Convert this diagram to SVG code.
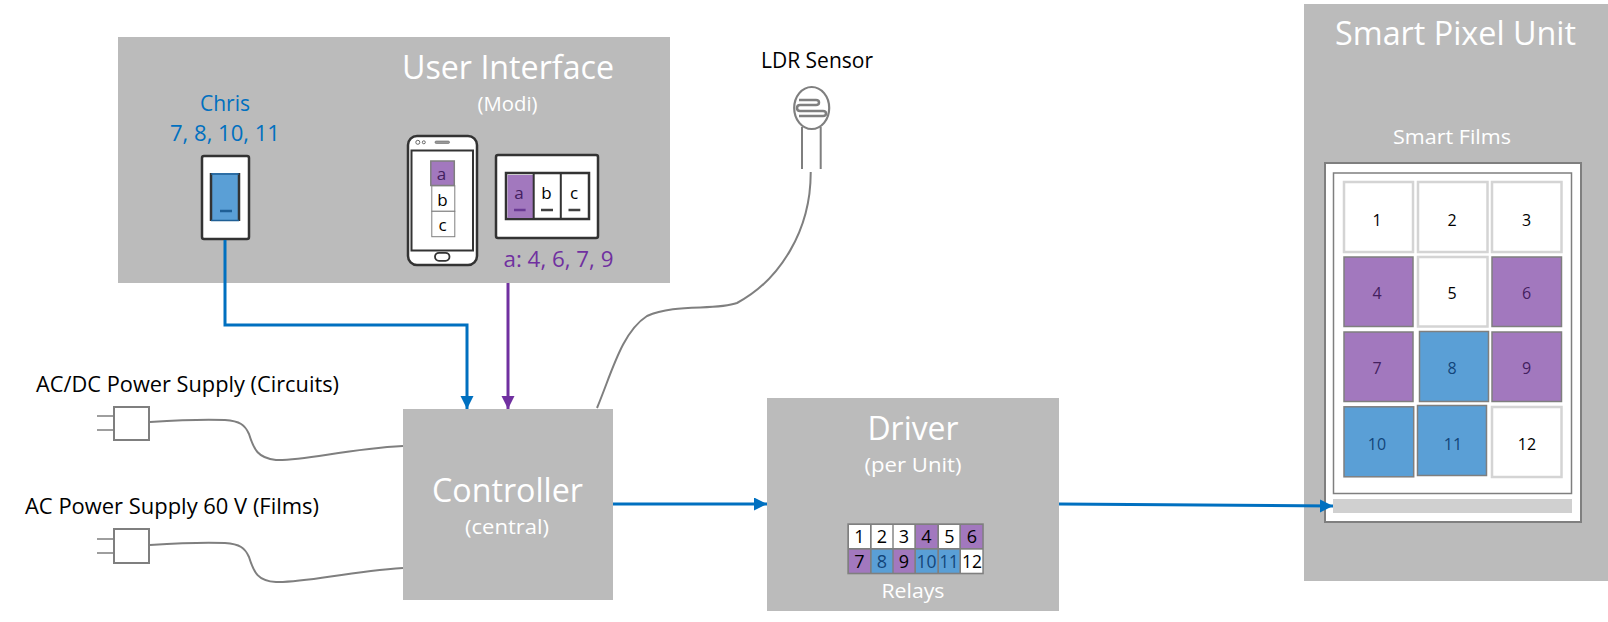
<svg xmlns="http://www.w3.org/2000/svg" width="1608" height="622" viewBox="0 0 1608 622">
<defs>
<marker id="ab" markerUnits="userSpaceOnUse" markerWidth="14" markerHeight="14" refX="13" refY="6.5" orient="auto"><path d="M0 0L13 6.5L0 13Z" fill="#0070C0"/></marker>
<marker id="ap" markerUnits="userSpaceOnUse" markerWidth="14" markerHeight="14" refX="13" refY="6.5" orient="auto"><path d="M0 0L13 6.5L0 13Z" fill="#7030A0"/></marker>
</defs>
<style>
text{font-family:"Open Sans","Noto Sans","Liberation Sans",sans-serif;text-anchor:middle}
.box{fill:#BBBBBB}
.t1{font-size:33px;fill:#fff}
.t2{font-size:20px;fill:#fff}
.lb{font-size:21.5px;fill:#000}
.bl{font-size:21.5px;fill:#0070C0}
.pu{font-size:21.5px;fill:#7030A0}
.wire{fill:none;stroke:#7F7F7F;stroke-width:2}
.dev{fill:#fff;stroke:#333;stroke-width:2.5}
.n{font-size:17px;fill:#000}
.np{font-size:17px;fill:#44205F}
.nb{font-size:16px;fill:#12457A}
.r{font-size:18px;fill:#000}
.rb{font-size:18px;fill:#12457A}
.s{font-size:16px;fill:#000}
.sp{font-size:16px;fill:#44205F}
.cw{fill:#fff;stroke:#D4D4D4;stroke-width:2.5}
.cp{fill:#A278BE;stroke:#7F7F7F;stroke-width:1.5}
.cb{fill:#5A9FD6;stroke:#7F7F7F;stroke-width:1.5}
.rw{fill:#fff}
.rp{fill:#A278BE}
.rbf{fill:#5A9FD6}
.conn{fill:none;stroke-width:3}
</style>

<g id="user-interface">
<rect class="box" x="118" y="37" width="552" height="246"/>
<text class="t1" x="508" y="79" textLength="212" lengthAdjust="spacingAndGlyphs">User Interface</text>
<text class="t2" x="507.500" y="111" textLength="60" lengthAdjust="spacingAndGlyphs">(Modi)</text>
<text class="bl" x="225" y="111" textLength="50" lengthAdjust="spacingAndGlyphs">Chris</text>
<text class="bl" x="225" y="141" textLength="110" lengthAdjust="spacingAndGlyphs">7, 8, 10, 11</text>
<text class="pu" x="558.500" y="267" textLength="110" lengthAdjust="spacingAndGlyphs">a: 4, 6, 7, 9</text>
</g>

<g id="switch-chris">
<rect class="dev" x="202" y="156" width="47" height="83" rx="2"/>
<rect x="211" y="173" width="28" height="48" fill="#5A9FD6"/>
<path d="M211 173V221M239 173V221" stroke="#333" stroke-width="2.500" fill="none"/>
<path d="M211 174H239M211 220.500H239" stroke="#1F5F95" stroke-width="1.500" fill="none"/>
<path d="M220 211H232" stroke="#1F5F95" stroke-width="2.500" fill="none"/>
</g>

<g id="phone">
<rect class="dev" x="408" y="136" width="69" height="129" rx="9" stroke-width="2"/>
<rect x="411.500" y="150.500" width="61.500" height="100" fill="#fff" stroke="#333" stroke-width="2"/>
<circle cx="417.800" cy="142.300" r="2" fill="none" stroke="#666" stroke-width="1"/>
<circle cx="423.800" cy="142.300" r="1.500" fill="none" stroke="#666" stroke-width="1"/>
<rect x="435" y="141" width="14.500" height="2.500" rx="1.200" fill="#999" stroke="#666" stroke-width=".6"/>
<rect x="435" y="252.800" width="14.500" height="8" rx="4" fill="#fff" stroke="#333" stroke-width="1.800"/>
<rect x="431.800" y="185.700" width="23" height="25.600" fill="#fff" stroke="#7F7F7F"/>
<rect x="431.800" y="211.300" width="23" height="25.400" fill="#fff" stroke="#7F7F7F"/>
<rect x="430.800" y="161" width="23.500" height="24.500" fill="#A278BE" stroke="#7F7F7F" stroke-width="1.500"/>
<text class="np" x="441.500" y="180">a</text>
<text class="n" x="442.500" y="206">b</text>
<text class="n" x="442.500" y="231">c</text>
</g>

<g id="wall-panel">
<rect class="dev" x="496" y="155" width="102" height="83" rx="2" stroke-width="2"/>
<rect x="506" y="173" width="83" height="46" fill="#fff" stroke="#333" stroke-width="2.500"/>
<rect x="507.500" y="175" width="25.500" height="43" fill="#A278BE"/>
<path d="M533.700 173V219M560.800 173V219" stroke="#333" stroke-width="2"/>
<path d="M514 210H525.600" stroke="#6A3A94" stroke-width="2.500"/>
<path d="M541 210H553M568.500 210H580.300" stroke="#404040" stroke-width="2.500"/>
<text class="np" x="519" y="199">a</text>
<text class="n" x="546.500" y="199">b</text>
<text class="n" x="574" y="199">c</text>
</g>

<g id="ldr-sensor">
<text class="lb" x="817" y="68" textLength="112" lengthAdjust="spacingAndGlyphs">LDR Sensor</text>
<ellipse cx="811.700" cy="108" rx="17.500" ry="21" fill="#fff" stroke="#7F7F7F" stroke-width="2.200"/>
<path d="M799 100H816Q819 100 819 102.500T816 105H800Q797 105 797 108T800 111H823Q826 111 826 113.500T823 116H799" fill="none" stroke="#7F7F7F" stroke-width="2.500"/>
<path d="M802 127V169M820.700 127V169" fill="none" stroke="#7F7F7F" stroke-width="2"/>
</g>

<g id="plug-circuits">
<text class="lb" x="187.500" y="392" textLength="303" lengthAdjust="spacingAndGlyphs">AC/DC Power Supply (Circuits)</text>
<rect x="114" y="407" width="35" height="33" fill="#fff" stroke="#7F7F7F" stroke-width="2"/>
<path d="M97 416H114M97 430H114" stroke="#7F7F7F" stroke-width="1.500"/>
</g>
<g id="plug-films">
<text class="lb" x="172" y="514" textLength="294" lengthAdjust="spacingAndGlyphs">AC Power Supply 60 V (Films)</text>
<rect x="114" y="529" width="35" height="34" fill="#fff" stroke="#7F7F7F" stroke-width="2"/>
<path d="M97 539H114M97 553H114" stroke="#7F7F7F" stroke-width="1.500"/>
</g>

<g id="controller">
<rect class="box" x="403" y="409" width="210" height="191"/>
<text class="t1" x="507.500" y="502" textLength="151" lengthAdjust="spacingAndGlyphs">Controller</text>
<text class="t2" x="507" y="534" textLength="84" lengthAdjust="spacingAndGlyphs">(central)</text>
</g>

<g id="driver">
<rect class="box" x="767" y="398" width="292" height="213"/>
<text class="t1" x="913" y="440" textLength="91" lengthAdjust="spacingAndGlyphs">Driver</text>
<text class="t2" x="913" y="472" textLength="97" lengthAdjust="spacingAndGlyphs">(per Unit)</text>
<rect x="847.300" y="523.300" width="136.500" height="51" fill="#7F7F7F"/>
<g>
<rect class="rw" x="849" y="525" width="21" height="23"/><rect class="rw" x="871.700" y="525" width="20.600" height="23"/><rect class="rw" x="893.700" y="525" width="20.600" height="23"/><rect class="rp" x="916" y="525" width="21.300" height="23"/><rect class="rw" x="939" y="525" width="20.300" height="23"/><rect class="rp" x="961" y="525" width="21.300" height="23"/>
<rect class="rp" x="849" y="549.700" width="21" height="23"/><rect class="rbf" x="871.700" y="549.700" width="20.600" height="23"/><rect class="rp" x="893.700" y="549.700" width="20.600" height="23"/><rect class="rbf" x="916" y="549.700" width="21.300" height="23"/><rect class="rbf" x="939" y="549.700" width="20.300" height="23"/><rect class="rw" x="961" y="549.700" width="21.300" height="23"/>
</g>
<text class="r" x="859.500" y="543">1</text><text class="r" x="882" y="543">2</text><text class="r" x="904" y="543">3</text><text class="r" x="926.500" y="543">4</text><text class="r" x="949.500" y="543">5</text><text class="r" x="972" y="543">6</text>
<text class="r" x="859.500" y="568">7</text><text class="rb" x="882" y="568">8</text><text class="r" x="904" y="568">9</text><text class="rb" x="926.500" y="568" textLength="20" lengthAdjust="spacingAndGlyphs">10</text><text class="rb" x="949" y="568" textLength="19" lengthAdjust="spacingAndGlyphs">11</text><text class="r" x="972" y="568" textLength="20" lengthAdjust="spacingAndGlyphs">12</text>
<text class="t2" x="913" y="598" textLength="63" lengthAdjust="spacingAndGlyphs">Relays</text>
</g>

<g id="smart-pixel-unit">
<rect class="box" x="1304" y="4" width="304" height="577"/>
<text class="t1" x="1455.500" y="45" textLength="241" lengthAdjust="spacingAndGlyphs">Smart Pixel Unit</text>
<text class="t2" x="1452" y="144" textLength="118" lengthAdjust="spacingAndGlyphs">Smart Films</text>
<rect x="1325" y="163" width="256" height="359" fill="#fff" stroke="#7F7F7F" stroke-width="2"/>
<rect x="1333.500" y="173" width="238" height="320.500" fill="#fff" stroke="#7F7F7F" stroke-width="1.500"/>
<rect x="1333" y="499" width="239" height="14" fill="#D0D0D0"/>
<rect class="cw" x="1344" y="182" width="69" height="70"/><rect class="cw" x="1418" y="182" width="69.500" height="70"/><rect class="cw" x="1492" y="182" width="69.500" height="70"/>
<rect class="cp" x="1344" y="257" width="69" height="69.500"/><rect class="cw" x="1418" y="257" width="69.500" height="69.500"/><rect class="cp" x="1492" y="257" width="69.500" height="69.500"/>
<rect class="cp" x="1344" y="332" width="69" height="69.500"/><rect class="cb" x="1419.500" y="331.500" width="69" height="70"/><rect class="cp" x="1492" y="332" width="69.500" height="69.500"/>
<rect class="cb" x="1344" y="406.800" width="69.700" height="70"/><rect class="cb" x="1417.500" y="405.500" width="69" height="70"/><rect class="cw" x="1492" y="407" width="69.500" height="70"/>
<text class="s" x="1377" y="226">1</text><text class="s" x="1452" y="226">2</text><text class="s" x="1526.500" y="226">3</text>
<text class="sp" x="1377" y="298.500">4</text><text class="s" x="1452" y="298.500">5</text><text class="sp" x="1526.500" y="298.500">6</text>
<text class="sp" x="1377" y="374">7</text><text class="nb" x="1452" y="374">8</text><text class="sp" x="1526.500" y="374">9</text>
<text class="nb" x="1377" y="450">10</text><text class="nb" x="1453" y="450">11</text><text class="s" x="1527" y="450">12</text>
</g>

<g id="connectors">
<path class="wire" d="M150 422C180 420 205 419 225 420C240 421 245 425 249 434C254 450 258 458 276 460C305 461 345 449 403 446"/>
<path class="wire" d="M150 545C180 543 205 542 225 543C240 544 245 548 249 557C254 573 258 581 276 582C305 583 345 572 403 568"/>
<path class="wire" d="M810.700 172C811 230 780 280 737 303C715 311 675 303 647 316C622 332 612 372 597 408"/>
<path class="conn" stroke="#0070C0" marker-end="url(#ab)" d="M225 240V325H467V409"/>
<path class="conn" stroke="#7030A0" marker-end="url(#ap)" d="M508 283V409"/>
<path class="conn" stroke="#0070C0" marker-end="url(#ab)" d="M613 504H767"/>
<path class="conn" stroke="#0070C0" marker-end="url(#ab)" d="M1059 504L1333 506"/>
</g>
</svg>
